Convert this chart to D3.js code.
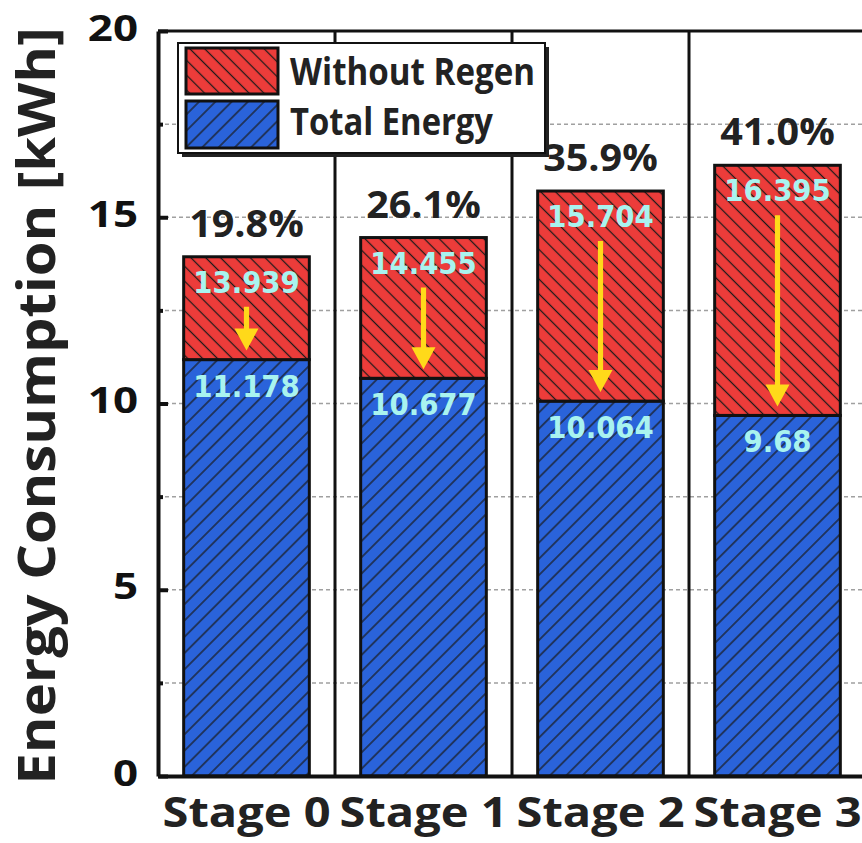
<!DOCTYPE html>
<html><head><meta charset="utf-8">
<script src="https://cdn.jsdelivr.net/npm/d3@7"></script>
<style>body{margin:0;background:#fff} svg{display:block}</style>
</head><body><svg id="c" width="862" height="843"></svg>
<script>
const categories = ["Stage 0","Stage 1","Stage 2","Stage 3"];
const withoutRegen = [13.939, 14.455, 15.704, 16.395];
const totalEnergy = [11.178, 10.677, 10.064, 9.68];
const withoutLabels = ["13.939","14.455","15.704","16.395"];
const totalLabels = ["11.178","10.677","10.064","9.68"];
const reductionLabels = ["19.8%","26.1%","35.9%","41.0%"];
const yTicks = [0,5,10,15,20];
const yMinorTicks = [2.5,7.5,12.5,17.5];
const gridValues = [2.5,5,7.5,10,12.5,15,17.5];
const legendLabels = ["Without Regen","Total Energy"];
const yTitle = "Energy Consumption [kWh]";

const RED = "#ec3c3a", BLUE = "#2a63da", CYAN = "#a9f3ef", YEL = "#ffd91a";
const svg = d3.select("#c");
const x = d3.scaleBand().domain(categories).range([158, 866]).paddingInner(0.29).paddingOuter(0.145);
const y = d3.scaleLinear().domain([0, 20]).range([776, 31]);

// patterns
const defs = svg.append("defs");
function hatch(id, color, angle, size) {
  const p = defs.append("pattern").attr("id", id).attr("patternUnits", "userSpaceOnUse")
    .attr("width", size).attr("height", size).attr("patternTransform", `rotate(${angle})`);
  p.append("rect").attr("width", size).attr("height", size).attr("fill", color);
  p.append("line").attr("x1", size/2).attr("x2", size/2).attr("y1", 0).attr("y2", size)
    .attr("stroke", "#1a1a1a").attr("stroke-width", 1.25);
}
hatch("hR", RED, -45, 10.5);
hatch("hB", BLUE, 45, 11.5);

const X0 = 158, X1 = 866;
// gridlines
svg.append("g").selectAll("line").data(gridValues).join("line")
  .attr("x1", X0).attr("x2", X1).attr("y1", d => y(d)).attr("y2", d => y(d))
  .attr("stroke", "#a0a0a0").attr("stroke-width", 1.5).attr("stroke-dasharray", "4,3");

// separators
const step = x.step();
svg.append("g").selectAll("line").data(categories.slice(1)).join("line")
  .attr("x1", d => x(d) - x.paddingInner() * step / 2).attr("x2", d => x(d) - x.paddingInner() * step / 2)
  .attr("y1", y(20)).attr("y2", y(0)).attr("stroke", "#111").attr("stroke-width", 3);
svg.append("line").attr("x1", X0).attr("x2", X1).attr("y1", y(20)).attr("y2", y(20))
  .attr("stroke", "#111").attr("stroke-width", 3);

// bars
const bars = svg.append("g");
bars.selectAll("rect.b").data(categories).join("rect").attr("class", "b")
  .attr("x", d => x(d)).attr("width", x.bandwidth())
  .attr("y", (d, i) => y(totalEnergy[i])).attr("height", (d, i) => y(0) - y(totalEnergy[i]))
  .attr("fill", "url(#hB)").attr("stroke", "#111").attr("stroke-width", 3);
bars.selectAll("rect.r").data(categories).join("rect").attr("class", "r")
  .attr("x", d => x(d)).attr("width", x.bandwidth())
  .attr("y", (d, i) => y(withoutRegen[i])).attr("height", (d, i) => y(totalEnergy[i]) - y(withoutRegen[i]))
  .attr("fill", "url(#hR)").attr("stroke", "#111").attr("stroke-width", 3);

// arrows
const cx = d => x(d) + x.bandwidth() / 2;
categories.forEach((c, i) => {
  const s = y(withoutRegen[i]) + 50, t = y(totalEnergy[i]) - 9, hl = 22, hw = 12, sw = 2.6;
  const X = cx(c);
  svg.append("path").attr("fill", YEL)
    .attr("d", `M${X-sw},${s}L${X+sw},${s}L${X+sw},${t-hl}L${X+hw},${t-hl}L${X},${t}L${X-hw},${t-hl}L${X-sw},${t-hl}Z`);
});

// value labels
function squeeze(sel, f) { sel.each(function(){ const w = this.getComputedTextLength(); d3.select(this).attr("textLength", w * f).attr("lengthAdjust", "spacingAndGlyphs"); }); }
const vl = svg.append("g").attr("font-family", "DejaVu Sans").attr("font-weight", "bold")
  .attr("font-size", 30).attr("fill", CYAN).attr("text-anchor", "middle");
vl.selectAll("text.t").data(categories).join("text").attr("class", "t")
  .attr("x", cx).attr("y", (d, i) => y(withoutRegen[i]) + 36).text((d, i) => withoutLabels[i]).call(squeeze, 0.92);
vl.selectAll("text.b").data(categories).join("text").attr("class", "b")
  .attr("x", cx).attr("y", (d, i) => y(totalEnergy[i]) + 37).text((d, i) => totalLabels[i]).call(squeeze, 0.92);

// percentage labels
svg.append("g").selectAll("text").data(categories).join("text")
  .attr("x", cx).attr("y", (d, i) => y(withoutRegen[i]) - 20).attr("text-anchor", "middle")
  .attr("font-family", "Open Sans").attr("font-weight", "bold").attr("font-size", 38).attr("fill", "#222")
  .text((d, i) => reductionLabels[i]).call(squeeze, 1.04);

// axes
const ya = svg.append("g").attr("transform", `translate(${X0},0)`)
  .call(d3.axisLeft(y).tickValues(yTicks).tickSize(-10).tickSizeOuter(0).tickPadding(20));
ya.select(".domain").attr("stroke", "#111").attr("stroke-width", 4);
ya.selectAll(".tick line").attr("stroke", "#111").attr("stroke-width", 4);
ya.selectAll(".tick text").attr("font-family", "Open Sans").attr("font-weight", "bold")
  .attr("font-size", 36).attr("fill", "#111").attr("dy", "0.25em").call(squeeze, 1.22);
const ym = svg.append("g").attr("transform", `translate(${X0},0)`)
  .call(d3.axisLeft(y).tickValues(yMinorTicks).tickSize(-5).tickFormat(""));
ym.select(".domain").remove();
ym.selectAll(".tick line").attr("stroke", "#111").attr("stroke-width", 4);

const xa = svg.append("g").attr("transform", `translate(0,${y(0)})`)
  .call(d3.axisBottom(x).tickSize(0).tickSizeOuter(0).tickPadding(21));
xa.select(".domain").attr("stroke", "#111").attr("stroke-width", 4);
xa.selectAll(".tick text").attr("font-family", "Open Sans").attr("font-weight", "bold")
  .attr("font-size", 42).attr("fill", "#222").attr("textLength", 168).attr("lengthAdjust", "spacingAndGlyphs");

// y title
svg.append("text").attr("transform", "translate(55,406) rotate(-90)").attr("text-anchor", "middle")
  .attr("font-family", "Open Sans").attr("font-weight", "bold").attr("font-size", 52).attr("fill", "#222")
  .attr("textLength", 757).attr("lengthAdjust", "spacingAndGlyphs").text(yTitle);

// legend
const lg = svg.append("g");
lg.append("rect").attr("x", 182).attr("y", 47).attr("width", 367).attr("height", 110).attr("fill", "#222");
lg.append("rect").attr("x", 178).attr("y", 43).attr("width", 367).attr("height", 110)
  .attr("fill", "#fff").attr("stroke", "#111").attr("stroke-width", 2);
const swatches = [{f: "url(#hR)", y: 48, h: 46}, {f: "url(#hB)", y: 101, h: 47}];
legendLabels.forEach((l, i) => {
  lg.append("rect").attr("x", 186).attr("y", swatches[i].y).attr("width", 92).attr("height", swatches[i].h)
    .attr("fill", swatches[i].f).attr("stroke", "#111").attr("stroke-width", 3);
  lg.append("text").attr("x", 290).attr("y", i === 0 ? 85 : 135)
    .attr("font-family", "Open Sans").attr("font-weight", "bold").attr("font-size", 38).attr("fill", "#222")
    .attr("textLength", i === 0 ? 245 : 203).attr("lengthAdjust", "spacingAndGlyphs").text(l);
});
</script></body></html>
